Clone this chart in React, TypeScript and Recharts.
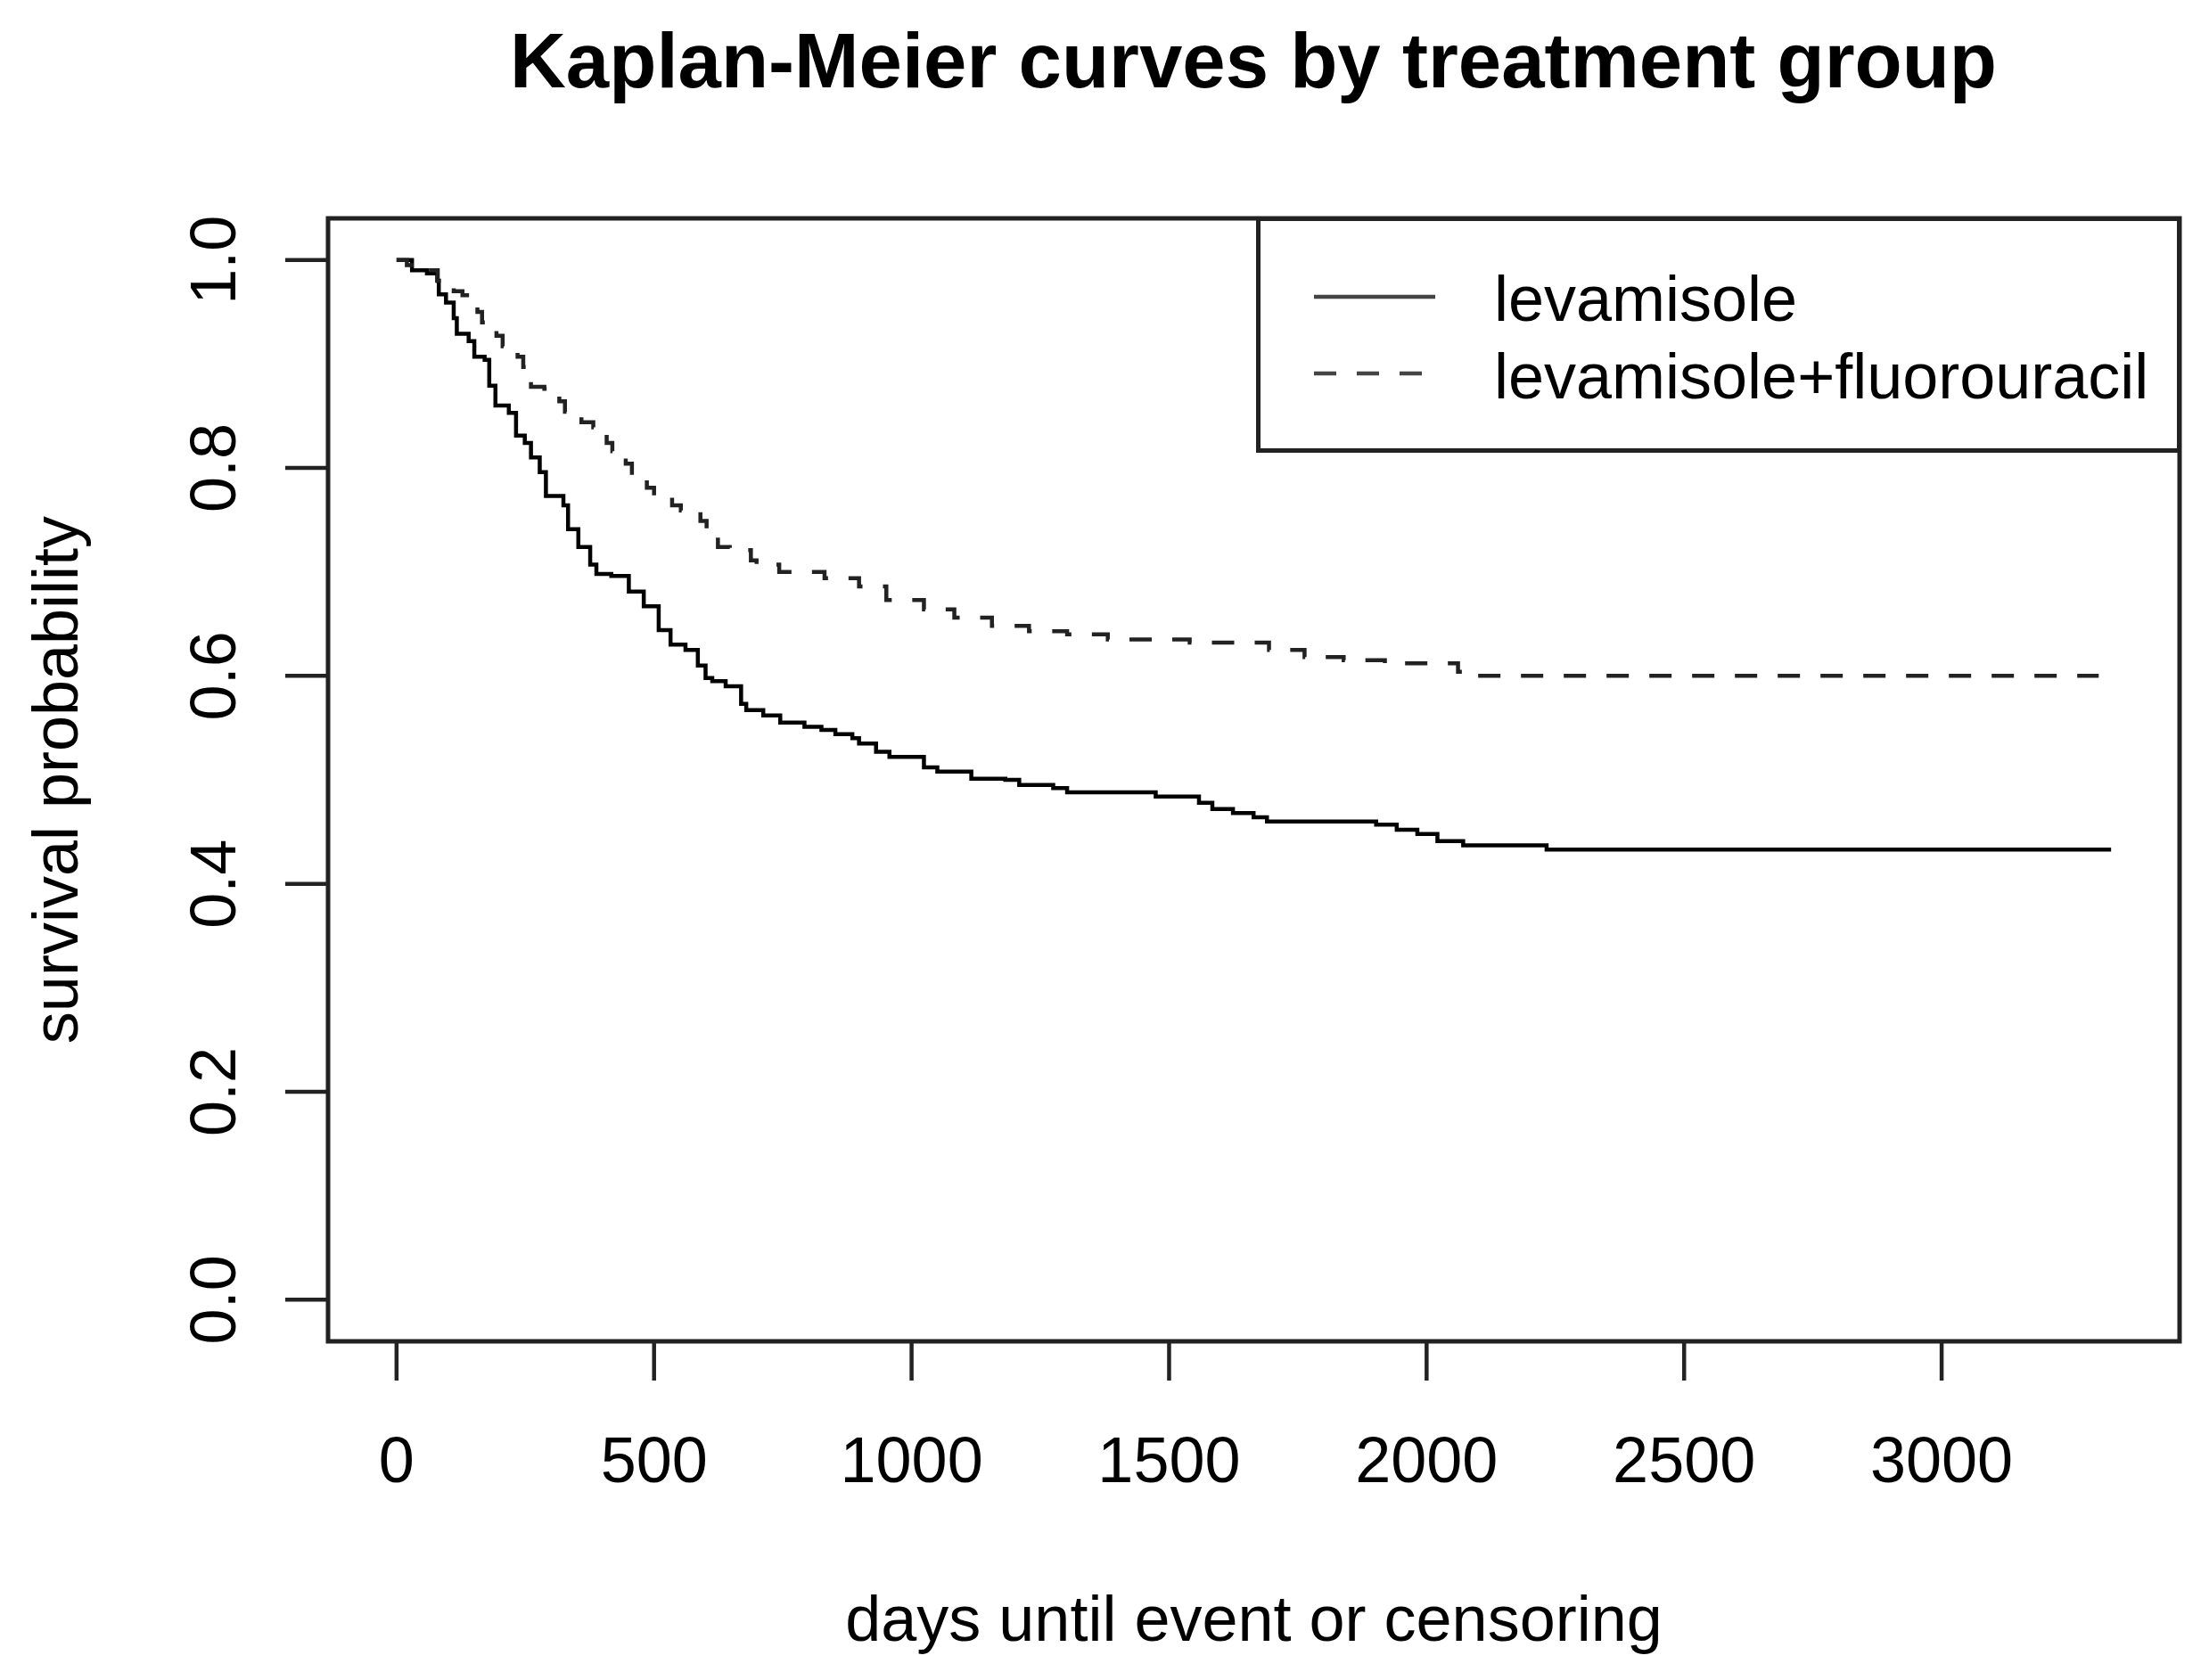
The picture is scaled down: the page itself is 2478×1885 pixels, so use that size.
import React from 'react';
import { LineChart, Line, XAxis, YAxis, ReferenceArea, Legend, Label } from 'recharts';

// Kaplan-Meier step points: day of drop, survival after the drop
const LEV_DAYS = [
  0, 30, 59, 79, 82, 96, 111, 117, 140, 151, 171, 180, 192, 218, 232, 249, 261, 278, 290, 324,
  333, 353, 376, 388, 417, 451, 480, 509, 532, 561, 585, 600, 613, 639, 669, 679, 712, 745, 792,
  825, 852, 885, 898, 931, 957, 1024, 1050, 1116, 1182, 1209, 1275, 1302, 1474, 1558, 1584, 1624,
  1664, 1690, 1902, 1942, 1982, 2021, 2071, 2233, 3329,
];
const LEV_SURV = [
  1.0, 0.99, 0.987, 0.98, 0.967, 0.959, 0.944, 0.929, 0.922, 0.907, 0.904, 0.879, 0.86, 0.853,
  0.831, 0.824, 0.81, 0.796, 0.773, 0.764, 0.741, 0.724, 0.707, 0.698, 0.696, 0.681, 0.667, 0.644,
  0.63, 0.625, 0.61, 0.598, 0.595, 0.59, 0.573, 0.567, 0.562, 0.555, 0.551, 0.548, 0.544, 0.54,
  0.535, 0.527, 0.522, 0.512, 0.508, 0.501, 0.5, 0.495, 0.492, 0.488, 0.484, 0.478, 0.472, 0.468,
  0.464, 0.46, 0.457, 0.452, 0.448, 0.441, 0.437, 0.433, 0.433,
];

const LEV5FU_DAYS = [
  0, 20, 50, 80, 100, 111, 128, 157, 166, 194, 206, 235, 246, 261, 287, 316, 327, 359, 382, 408,
  419, 445, 457, 486, 500, 535, 552, 590, 602, 624, 647, 688, 699, 743, 831, 898, 951, 1024, 1083,
  1156, 1228, 1302, 1381, 1540, 1694, 1763, 1839, 1919, 2061, 2078, 3305,
];
const LEV5FU_SURV = [
  1.0, 0.995, 0.99, 0.98, 0.975, 0.97, 0.966, 0.95, 0.94, 0.927, 0.917, 0.907, 0.897, 0.878, 0.876,
  0.864, 0.854, 0.844, 0.839, 0.824, 0.816, 0.804, 0.793, 0.781, 0.773, 0.764, 0.759, 0.749, 0.738,
  0.724, 0.721, 0.711, 0.707, 0.7, 0.694, 0.686, 0.673, 0.664, 0.656, 0.648, 0.643, 0.64, 0.635,
  0.632, 0.625, 0.618, 0.615, 0.612, 0.604, 0.6, 0.6,
];

const SERIES_NAMES = ['levamisole', 'levamisole+fluorouracil'];
const X_TICKS = [0, 500, 1000, 1500, 2000, 2500, 3000];
const Y_TICKS = [0, 0.2, 0.4, 0.6, 0.8, 1.0];
// R pads the data range by 4% on each side
const X_DOMAIN: [number, number] = [-133, 3462];
const Y_DOMAIN: [number, number] = [-0.04, 1.04];

const FONT = '"Liberation Sans", Arial, Helvetica, sans-serif';
const DASH = '25 23';

const levData = LEV_DAYS.map((t, i) => ({ t, s: LEV_SURV[i] }));
const lev5fuData = LEV5FU_DAYS.map((t, i) => ({ t, s: LEV5FU_SURV[i] }));

function XTick(props: any) {
  const { x, y, payload } = props;
  return (
    <text x={x} y={y + 114} textAnchor="middle" fontSize={72} fontFamily={FONT} fill="#000">
      {payload.value}
    </text>
  );
}

function YTick(props: any) {
  const { x, y, payload } = props;
  const bx = x - 56;
  return (
    <text
      x={bx}
      y={y}
      transform={`rotate(-90, ${bx}, ${y})`}
      textAnchor="middle"
      fontSize={72}
      fontFamily={FONT}
      fill="#000"
    >
      {Number(payload.value).toFixed(1)}
    </text>
  );
}

function XLabel(props: any) {
  const vb = props.viewBox;
  return (
    <text x={vb.x + vb.width / 2} y={vb.y + 336} textAnchor="middle" fontSize={72} fontFamily={FONT} fill="#000">
      days until event or censoring
    </text>
  );
}

function YLabel(props: any) {
  const vb = props.viewBox;
  const bx = vb.x + vb.width - 281;
  const cy = vb.y + vb.height / 2;
  return (
    <text
      x={bx}
      y={cy}
      transform={`rotate(-90, ${bx}, ${cy})`}
      textAnchor="middle"
      fontSize={72}
      fontFamily={FONT}
      fill="#000"
    >
      survival probability
    </text>
  );
}

function LegendBox(props: any) {
  const items = (props.payload || []).slice().sort(
    (a: any, b: any) => SERIES_NAMES.indexOf(a.value) - SERIES_NAMES.indexOf(b.value)
  );
  return (
    <svg width={1038} height={265} style={{ display: 'block' }}>
      <rect x={2.5} y={2.5} width={1033} height={260} fill="#fff" stroke="#222" strokeWidth={5} />
      {items.map((entry: any, i: number) => (
        <g key={entry.value}>
          <line
            x1={65}
            x2={201}
            y1={90 + i * 86}
            y2={90 + i * 86}
            stroke="#444"
            strokeWidth={4.5}
            strokeDasharray={i === 1 ? DASH : undefined}
          />
          <text x={267} y={117 + i * 87} fontSize={72} fontFamily={FONT} fill="#000">
            {entry.value}
          </text>
        </g>
      ))}
    </svg>
  );
}

export default function App() {
  return (
    <div style={{ position: 'absolute', left: 0, top: 0, width: 2478, height: 1885, background: '#fff' }}>
      <LineChart width={2478} height={1885} margin={{ top: 245, right: 33, bottom: 0, left: 0 }}>
        <XAxis
          dataKey="t"
          type="number"
          domain={X_DOMAIN}
          allowDataOverflow
          ticks={X_TICKS}
          interval={0}
          height={380}
          axisLine={false}
          tickLine={{ stroke: '#222', strokeWidth: 4.5 }}
          tickSize={44}
          tickMargin={0}
          tick={XTick}
        >
          <Label content={XLabel} />
        </XAxis>
        <YAxis
          type="number"
          domain={Y_DOMAIN}
          allowDataOverflow
          ticks={Y_TICKS}
          interval={0}
          width={368}
          axisLine={false}
          tickLine={{ stroke: '#222', strokeWidth: 4.5 }}
          tickSize={48}
          tickMargin={0}
          tick={YTick}
        >
          <Label content={YLabel} />
        </YAxis>
        <ReferenceArea
          x1={X_DOMAIN[0]}
          x2={X_DOMAIN[1]}
          y1={Y_DOMAIN[0]}
          y2={Y_DOMAIN[1]}
          fill="none"
          stroke="#222"
          strokeWidth={5}
          ifOverflow="visible"
        />
        <Line
          data={levData}
          dataKey="s"
          name={SERIES_NAMES[0]}
          type="stepAfter"
          stroke="#000"
          strokeWidth={4.5}
          dot={false}
          activeDot={false}
          isAnimationActive={false}
        />
        <Line
          data={lev5fuData}
          dataKey="s"
          name={SERIES_NAMES[1]}
          type="stepAfter"
          stroke="#222"
          strokeWidth={4.5}
          strokeDasharray={DASH}
          dot={false}
          activeDot={false}
          isAnimationActive={false}
        />
        <Legend
          layout="horizontal"
          verticalAlign="middle"
          align="center"
          content={LegendBox}
          wrapperStyle={{ position: 'absolute', left: 1409, top: 243, width: 1038, height: 265, margin: 0 }}
        />
      </LineChart>
      <svg width={2478} height={200} style={{ position: 'absolute', left: 0, top: 0, pointerEvents: 'none' }}>
        <text x={1406} y={98} textAnchor="middle" fontSize={87} fontWeight="bold" fontFamily={FONT} fill="#000">
          Kaplan-Meier curves by treatment group
        </text>
      </svg>
    </div>
  );
}
